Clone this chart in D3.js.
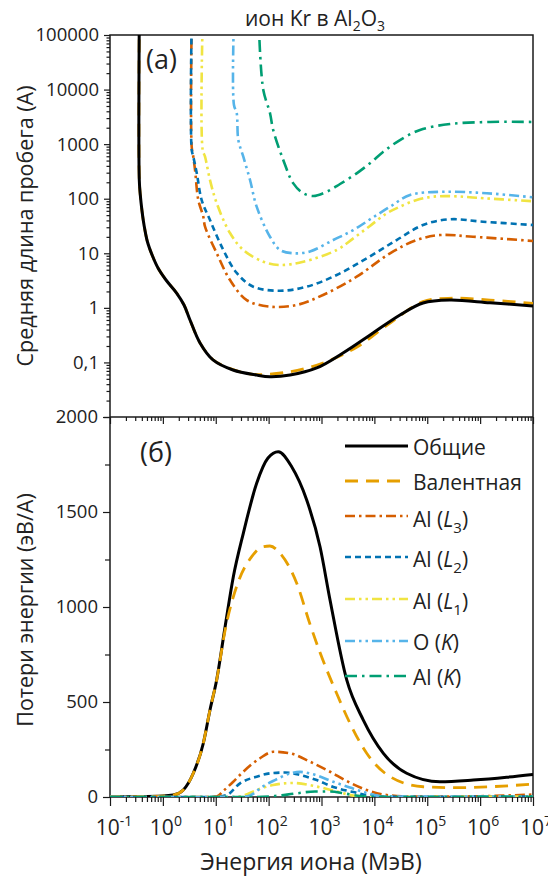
<!DOCTYPE html>
<html>
<head>
<meta charset="utf-8">
<script src="https://cdn.jsdelivr.net/npm/d3@7"></script>
<style>
  body { margin: 0; background: #fff; }
  svg { display: block; font-family: "Open Sans", sans-serif; }
</style>
</head>
<body>
<svg id="chart" width="548" height="879"></svg>
<script>
// ---------- data: energy (MeV) and value pairs ----------
// (a) mean free path, Å
const pathTotal = [[0.358,2e5],[0.358,220],[0.374,117],[0.401,62],[0.44,33],[0.512,16.1],[0.637,8.9],[0.809,5.37],[1.146,3.24],[1.82,1.87],[2.51,1.13],[3.26,0.6],[5.04,0.227],[8.87,0.111],[21.2,0.0726],[59.4,0.0587],[106,0.0547],[254,0.0587],[811,0.0791],[2550,0.149],[9420,0.346],[30500,0.74],[83200,1.23],[269000,1.39],[1.54e6,1.24],[1e7,1.08]];
const pathValence = [[0.358,2e5],[0.358,220],[0.374,117],[0.401,62],[0.44,33],[0.512,16.1],[0.637,8.9],[0.809,5.37],[1.146,3.24],[1.82,1.87],[2.51,1.13],[3.26,0.6],[5.04,0.228],[8.87,0.112],[21.2,0.074],[51.3,0.0605],[254,0.0676],[1070,0.0975],[4690,0.192],[19800,0.527],[83200,1.3],[307000,1.5],[1.54e6,1.39],[1e7,1.21]];
const pathAlL3 = [[3.51,2e5],[3.51,887],[3.76,589],[4.06,336],[4.68,94.6],[5.82,46.8],[6.27,30.7],[10.4,10.1],[18.6,3.24],[38.5,1.39],[106,1.05],[340,1.13],[1070,1.72],[4630,3.72],[19800,10],[63100,17.5],[174000,21.6],[733000,20.1],[1e7,16.8]];
const pathAlL2 = [[3.51,2e5],[3.51,782],[3.76,589],[4.37,296],[5.42,94.6],[7.78,40.7],[13.9,11.5],[24.9,4.36],[51.3,2.44],[164,2.06],[525,2.44],[1940,4.0],[7160,8.09],[26400,17.5],[83200,33],[269000,42],[1.13e6,37.9],[1e7,33]];
const pathAlL1 = [[5.66,2e5],[5.66,782],[6.27,589],[7.78,220],[10.4,83.4],[18.6,23.5],[33.2,11.5],[79.3,7.0],[164,6.1],[453,7.0],[1940,11.5],[4000,18.8],[8000,31],[17100,54],[30500,71.5],[63100,95],[130000,109],[316000,111],[861000,104],[1e7,90]];
const pathOK = [[22.1,2e5],[22.1,5210],[24.9,3720],[26.7,1190],[33.2,589],[44.5,220],[59.4,71.4],[106,20.1],[164,11.5],[293,10],[605,10.8],[1670,17.5],[4000,26.7],[8890,43.8],[19800,71.4],[47200,117],[201000,134],[1.33e6,126],[1e7,106]];
const pathAlK = [[67.1,80900],[79.3,9820],[106,3720],[122,1820],[189,513],[293,191],[453,126],[700,112],[1250,134],[2240,186],[4630,292],[8260,446],[14800,726],[30500,1190],[72900,1820],[269000,2340],[1.54e6,2550],[1e7,2550]];

// (б) energy loss, eV/Å
const lossTotal = [[0.1,0.5],[1.0,5],[1.57,10],[2.43,37],[3.76,125],[5.82,283],[7.78,458],[10.4,616],[15.1,900],[21.5,1159],[33.2,1388],[59.4,1651],[97.3,1784],[152,1817],[273,1738],[525,1563],[938,1317],[1450,1037],[3000,616],[6180,405],[14800,230],[40800,125],[174000,80],[743000,89],[3.18e6,104],[1e7,119]];
const lossValence = [[0.1,0.5],[1.0,5],[1.57,10],[2.43,37],[3.76,125],[5.82,283],[7.78,458],[10.4,616],[15.1,880],[26.7,1133],[47.9,1265],[75,1316],[106,1321],[164,1283],[340,1125],[605,910],[938,760],[1930,546],[3460,388],[7160,230],[19800,107],[84100,54],[361000,49],[1.54e6,54],[1e7,68]];
const lossAlL3 = [[0.1,0],[5.04,0],[10.4,3],[13.9,32],[21.2,79],[33.2,133],[68.7,204],[122,238],[254,230],[605,186],[1450,133],[3000,84],[7160,37],[14800,13],[40800,3],[174000,2],[1e6,4],[1e7,13]];
const lossAlL2 = [[0.1,0],[9.66,0],[16.1,10],[28.8,72],[59.4,107],[116,126],[204,129],[392,116],[811,89],[1670,53],[4000,26],[8260,8],[30500,1],[1e7,3]];
const lossAlL1 = [[0.1,0],[23.1,0],[35.7,10],[59.4,37],[122,63],[288,74],[811,55],[1940,29],[4630,5],[12800,0],[1e7,3]];
const lossOK = [[0.1,0],[28.8,0],[44.5,8],[75,53],[132,89],[254,124],[392,132],[661,121],[1670,80],[3460,50],[7160,21],[15800,3],[1e7,3]];
const lossAlK = [[0.1,0],[55,0],[132,5],[316,18],[753,29],[1450,29],[2790,18],[5350,5],[12800,0],[1e7,1]];

// ticks
const xTickExponents = [-1,0,1,2,3,4,5,6,7];
const pathTicks = [1e5,1e4,1000,100,10,1,0.1,0.01];
const pathTickLabels = ["100000","10000","1000","100","10","1","0,1",""];
const lossTicks = [0,500,1000,1500,2000];
const lossTickLabels = ["0","500","1000","1500","2000"];

// legend labels: [text, style] parts
const legendLabels = [
  [["Общие",""]],
  [["Валентная",""]],
  [["Al (",""],["L","i"],["3","sub"],[")",""]],
  [["Al (",""],["L","i"],["2","sub"],[")",""]],
  [["Al (",""],["L","i"],["1","sub"],[")",""]],
  [["O (",""],["K","i"],[")",""]],
  [["Al (",""],["K","i"],[")",""]]
];

// ---------- styles ----------
const styles = [
  {color:"#000000", dash:null, w:3},
  {color:"#E69F00", dash:"13,8", w:2.8},
  {color:"#D55E00", dash:"10,4,2.5,4", w:2.6},
  {color:"#0072B2", dash:"6,4", w:2.6},
  {color:"#F0E442", dash:"10,4,2.5,4,2.5,4", w:2.6},
  {color:"#56B4E9", dash:"10,4,2.5,4,2.5,4", w:2.6},
  {color:"#009E73", dash:"12,5,2.5,5", w:2.6}
];

// ---------- layout ----------
const L = 110, R = 533, T = 35, MID = 417, B = 797;
const svg = d3.select("#chart");

const x = d3.scaleLog().domain([0.1, 1e7]).range([L, R]);
const yTop = d3.scaleLog().domain([0.01, 1e5]).range([MID, T]);
const yBot = d3.scaleLinear().domain([0, 2000]).range([B, MID]);

const defs = svg.append("defs");
defs.append("clipPath").attr("id","clipTop").append("rect")
  .attr("x",L).attr("y",T).attr("width",R-L).attr("height",MID-T);
defs.append("clipPath").attr("id","clipBot").append("rect")
  .attr("x",L).attr("y",MID).attr("width",R-L).attr("height",B-MID);

// minor log ticks
const xMinor = [];
for (let e = -1; e < 7; e++) for (let k = 2; k <= 9; k++) xMinor.push(k * Math.pow(10, e));
const yMinorTop = [];
for (let e = -2; e < 5; e++) for (let k = 2; k <= 9; k++) yMinorTop.push(k * Math.pow(10, e));

const axisColor = "#1a1a1a";
function styleAxis(g) {
  g.select(".domain").remove();
  g.selectAll(".tick line").attr("stroke", axisColor).attr("stroke-width", 1.2);
}

// x axis under panel (a): ticks only
svg.append("g").attr("transform",`translate(0,${MID})`)
  .call(d3.axisBottom(x).tickValues(xTickExponents.map(e=>Math.pow(10,e))).tickSize(7).tickFormat(""))
  .call(styleAxis);
svg.append("g").attr("transform",`translate(0,${MID})`)
  .call(d3.axisBottom(x).tickValues(xMinor).tickSize(4).tickFormat(""))
  .call(styleAxis);

// x axis under panel (б)
svg.append("g").attr("transform",`translate(0,${B})`)
  .call(d3.axisBottom(x).tickValues(xTickExponents.map(e=>Math.pow(10,e))).tickSize(9).tickFormat(""))
  .call(styleAxis);
svg.append("g").attr("transform",`translate(0,${B})`)
  .call(d3.axisBottom(x).tickValues(xMinor).tickSize(5).tickFormat(""))
  .call(styleAxis);

// x tick labels: 10 with superscript exponents
const xl = svg.append("g").attr("font-size", 21).attr("fill", "#222");
xTickExponents.forEach(e => {
  const t = xl.append("text").attr("x", x(Math.pow(10,e)) + (e < 0 ? 4 : 3)).attr("y", 835)
    .attr("text-anchor","middle");
  t.append("tspan").text("10");
  t.append("tspan").attr("dy",-9).attr("font-size",14).text(e < 0 ? "-" + Math.abs(e) : String(e));
});

// y axis panel (a)
svg.append("g").attr("transform",`translate(${L},0)`)
  .call(d3.axisLeft(yTop).tickValues(yMinorTop).tickSize(3.5).tickFormat(""))
  .call(styleAxis);
const gya = svg.append("g").attr("transform",`translate(${L},0)`)
  .call(d3.axisLeft(yTop).tickValues(pathTicks).tickSize(6).tickPadding(5)
    .tickFormat((d,i)=>pathTickLabels[i]))
  .call(styleAxis);
gya.selectAll("text").attr("font-size",18.5).attr("fill","#222").attr("font-family","Open Sans, sans-serif");

// y axis panel (б)
svg.append("g").attr("transform",`translate(${L},0)`)
  .call(d3.axisLeft(yBot).tickValues(d3.range(250,2000,500)).tickSize(5).tickFormat(""))
  .call(styleAxis);
const gyb = svg.append("g").attr("transform",`translate(${L},0)`)
  .call(d3.axisLeft(yBot).tickValues(lossTicks).tickSize(7).tickPadding(5)
    .tickFormat((d,i)=>lossTickLabels[i]))
  .call(styleAxis);
gyb.selectAll("text").attr("font-size",18.5).attr("fill","#222").attr("font-family","Open Sans, sans-serif");

// frame
svg.append("rect").attr("x",L).attr("y",T).attr("width",R-L).attr("height",B-T)
  .attr("fill","none").attr("stroke",axisColor).attr("stroke-width",1.5);
svg.append("line").attr("x1",L).attr("x2",R).attr("y1",MID).attr("y2",MID)
  .attr("stroke",axisColor).attr("stroke-width",1.5);

// ---------- curves ----------
const lineTop = d3.line().x(d=>x(d[0])).y(d=>yTop(d[1])).curve(d3.curveCatmullRom.alpha(0.5));
const lineBot = d3.line().x(d=>x(d[0])).y(d=>yBot(d[1])).curve(d3.curveMonotoneX);

function draw(g, data, s, gen) {
  g.append("path").datum(data).attr("d", gen)
    .attr("fill","none").attr("stroke", s.color).attr("stroke-width", s.w)
    .attr("stroke-dasharray", s.dash).attr("stroke-linejoin","round");
}

const gTop = svg.append("g").attr("clip-path","url(#clipTop)");
draw(gTop, pathValence, styles[1], lineTop);
draw(gTop, pathTotal, styles[0], lineTop);
draw(gTop, pathAlL3, styles[2], lineTop);
draw(gTop, pathAlL2, styles[3], lineTop);
draw(gTop, pathAlL1, styles[4], lineTop);
draw(gTop, pathOK, styles[5], lineTop);
draw(gTop, pathAlK, styles[6], lineTop);

const gBot = svg.append("g").attr("clip-path","url(#clipBot)");
draw(gBot, lossTotal, styles[0], lineBot);
draw(gBot, lossValence, styles[1], lineBot);
draw(gBot, lossAlL3, styles[2], lineBot);
draw(gBot, lossAlL2, styles[3], lineBot);
draw(gBot, lossAlL1, styles[4], lineBot);
draw(gBot, lossOK, styles[5], lineBot);
draw(gBot, lossAlK, styles[6], lineBot);

// ---------- legend ----------
const legendLineY = [446, 481, 516, 557, 599, 641, 676];
const legendTextY = [455, 490, 527, 567, 609, 650, 685];
const lg = svg.append("g");
legendLabels.forEach((parts, i) => {
  const s = styles[i];
  lg.append("line").attr("x1",345).attr("x2",408).attr("y1",legendLineY[i]).attr("y2",legendLineY[i])
    .attr("stroke",s.color).attr("stroke-width",s.w).attr("stroke-dasharray",s.dash);
  const t = lg.append("text").attr("x",413).attr("y",legendTextY[i]).attr("font-size",21).attr("fill","#222");
  const hasSub = parts.some(p => p[1] === "sub");
  parts.forEach(([txt, st]) => {
    const sp = t.append("tspan").text(txt);
    if (st === "i") sp.attr("font-style","italic");
    if (st === "sub") sp.attr("font-size",15).attr("dy",6);
    if (st === "" && txt === ")" && hasSub) sp.attr("dy",-6);
  });
});

// ---------- panel labels and titles ----------
svg.append("text").attr("x",146).attr("y",69).attr("font-size",27).attr("fill","#222").text("(a)");
svg.append("text").attr("x",140).attr("y",462).attr("font-size",27).attr("fill","#222").text("(б)");

const title = svg.append("text").attr("x",315).attr("y",26).attr("text-anchor","middle")
  .attr("font-size",21).attr("fill","#222");
title.append("tspan").text("ион Kr в Al");
title.append("tspan").attr("font-size",14).attr("dy",5).text("2");
title.append("tspan").attr("dy",-5).text("O");
title.append("tspan").attr("font-size",14).attr("dy",5).text("3");

svg.append("text").attr("transform","translate(33,226) rotate(-90)").attr("text-anchor","middle")
  .attr("font-size",21.5).attr("fill","#222").text("Средняя длина пробега (А)");
svg.append("text").attr("transform","translate(33,610) rotate(-90)").attr("text-anchor","middle")
  .attr("font-size",21.5).attr("fill","#222").text("Потери энергии (эВ/А)");
svg.append("text").attr("x",311).attr("y",870).attr("text-anchor","middle")
  .attr("font-size",23).attr("fill","#222").text("Энергия иона (МэВ)");
</script>
</body>
</html>
